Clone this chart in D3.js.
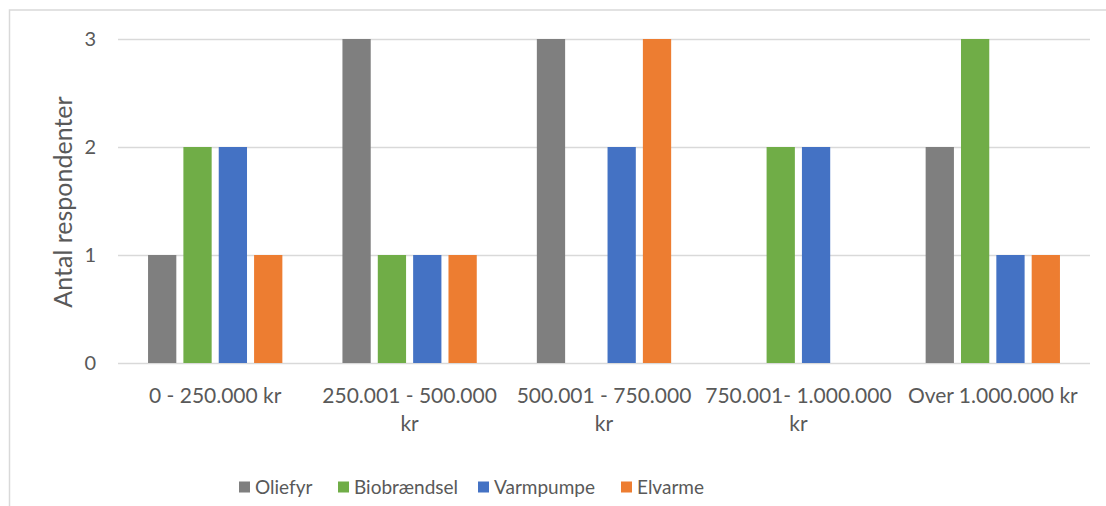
<!DOCTYPE html>
<html>
<head>
<meta charset="utf-8">
<script src="https://cdn.jsdelivr.net/npm/d3@7"></script>
<style>
  html, body { margin: 0; padding: 0; background: #fff; }
  svg { display: block; font-family: Lato, "Open Sans", sans-serif; }
</style>
</head>
<body>
<svg id="chart" width="1106" height="506"></svg>
<script>
// Income brackets and number of respondents per heating type
const categories = ["0 - 250.000 kr", "250.001 - 500.000 kr", "500.001 - 750.000 kr", "750.001- 1.000.000 kr", "Over 1.000.000 kr"];
const seriesNames = ["Oliefyr", "Biobrændsel", "Varmpumpe", "Elvarme"];
const oliefyr     = [1, 3, 3, 0, 2];
const biobraendsel = [2, 1, 0, 2, 3];
const varmpumpe   = [2, 1, 2, 2, 1];
const elvarme     = [1, 1, 3, 0, 1];
const yTicks = [0, 1, 2, 3];
const colors = ["#7f7f7f", "#70ad47", "#4472c4", "#ed7d31"];
const yTitle = "Antal respondenter";

const seriesValues = [oliefyr, biobraendsel, varmpumpe, elvarme];
const rows = categories.map((c, i) => ({
  category: c,
  values: seriesNames.map((s, j) => ({ key: s, value: seriesValues[j][i] }))
}));

const svg = d3.select("#chart");
const textColor = "#595959";

// outer chart frame
svg.append("rect")
  .attr("x", 9.5).attr("y", 10)
  .attr("width", 1120).attr("height", 520)
  .attr("fill", "none").attr("stroke", "#d9d9d9").attr("stroke-width", 1.5);

const plot = { left: 118, right: 1090, top: 39, bottom: 363 };

const x0 = d3.scaleBand().domain(categories).range([plot.left, plot.right]).padding(0);
const x1 = d3.scaleBand().domain(seriesNames).range([0, x0.bandwidth()])
  .paddingInner(0.2).paddingOuter(0.85);
const y = d3.scaleLinear().domain([0, 3]).range([plot.bottom, plot.top]);
const color = d3.scaleOrdinal().domain(seriesNames).range(colors);

// horizontal gridlines and y tick labels
const yAxis = d3.axisLeft(y).tickValues(yTicks).tickFormat(d3.format("d"))
  .tickSize(-(plot.right - plot.left)).tickPadding(22);
const gy = svg.append("g").attr("transform", `translate(${plot.left},0)`).call(yAxis);
gy.select(".domain").remove();
gy.selectAll(".tick line").attr("stroke", "#d9d9d9").attr("stroke-width", 1.5);
gy.selectAll(".tick text").attr("fill", textColor).style("font-size", "20px")
  .style("font-family", "Lato, sans-serif");

// bars
const groups = svg.append("g").selectAll("g").data(rows).join("g")
  .attr("transform", d => `translate(${x0(d.category)},0)`);
groups.selectAll("rect").data(d => d.values.filter(v => v.value > 0)).join("rect")
  .attr("x", d => x1(d.key))
  .attr("width", x1.bandwidth())
  .attr("y", d => y(d.value))
  .attr("height", d => y(0) - y(d.value))
  .attr("fill", d => color(d.key));

// category axis with wrapped labels
const xAxis = d3.axisBottom(x0).tickSize(0).tickPadding(0);
const gx = svg.append("g").attr("transform", `translate(0,${plot.bottom})`).call(xAxis);
gx.select(".domain").remove();
gx.selectAll(".tick text")
  .attr("fill", textColor).style("font-size", "21px")
  .style("font-family", "Lato, sans-serif")
  .attr("y", 0).attr("dy", null)
  .each(function(d) { wrap(d3.select(this), d, x0.bandwidth() - 2); });

function wrap(text, str, width) {
  const words = str.split(/\s+/);
  text.text(null);
  let line = [];
  let lineNo = 0;
  let tspan = text.append("tspan").attr("x", 0).attr("y", 40);
  for (const w of words) {
    line.push(w);
    tspan.text(line.join(" "));
    if (tspan.node().getComputedTextLength() > width && line.length > 1) {
      line.pop();
      tspan.text(line.join(" "));
      line = [w];
      lineNo++;
      tspan = text.append("tspan").attr("x", 0).attr("y", 40 + lineNo * 28).text(w);
    }
  }
}

// y axis title
svg.append("text")
  .attr("transform", `translate(72,202) rotate(-90)`)
  .attr("text-anchor", "middle")
  .attr("fill", textColor)
  .style("font-size", "25px")
  .text(yTitle);

// legend
const legendX = [239, 338, 478, 621];
const legend = svg.append("g").selectAll("g").data(seriesNames).join("g")
  .attr("transform", (d, i) => `translate(${legendX[i]},487)`);
legend.append("rect").attr("x", 0).attr("y", -5.5).attr("width", 11).attr("height", 11)
  .attr("fill", d => color(d));
legend.append("text").attr("x", 16).attr("y", 0).attr("dy", "0.36em")
  .attr("fill", textColor).style("font-size", "19px").text(d => d);
</script>
</body>
</html>
